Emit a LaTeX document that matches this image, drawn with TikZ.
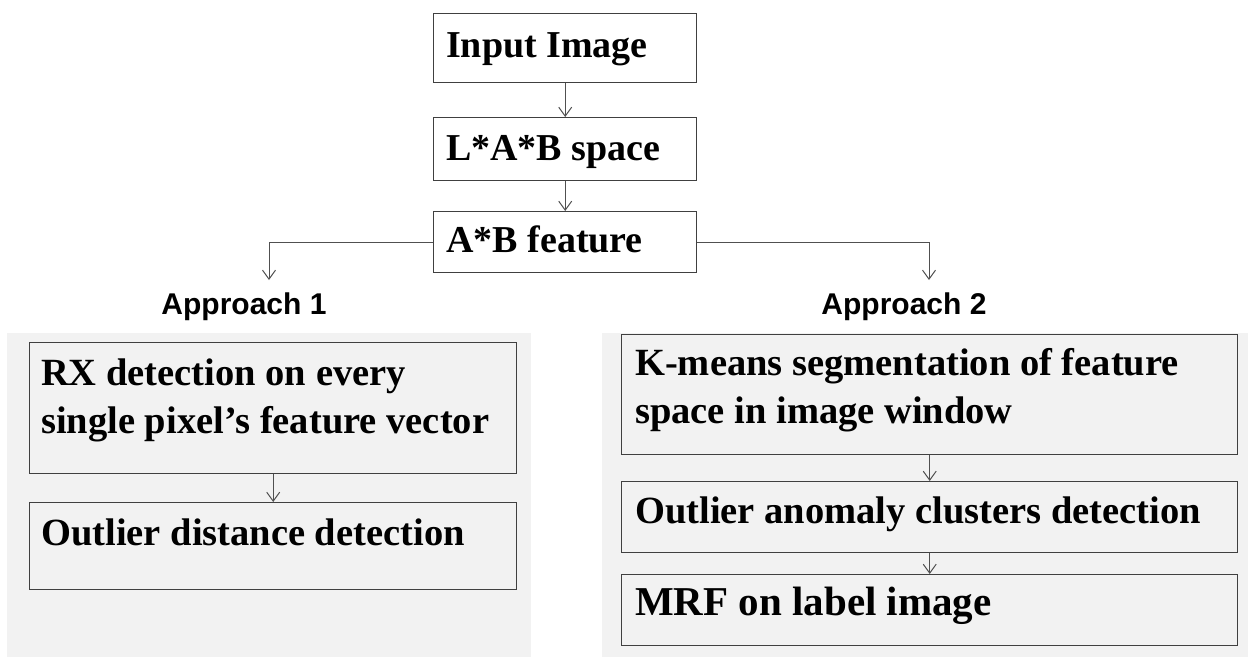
\documentclass[tikz,border=0pt]{standalone}
\usepackage{fontspec}
\setmainfont{Liberation Serif}
\newfontfamily\apfont{Liberation Sans}
\usetikzlibrary{arrows.meta}
\definecolor{panelc}{HTML}{F2F2F2}
\definecolor{boxc}{HTML}{404040}
\definecolor{arrc}{HTML}{505050}
\tikzset{
  box/.style={draw=boxc, line width=1.4pt, rectangle, inner sep=0pt, anchor=north west},
  wbox/.style={box, fill=white},
  txt/.style={inner sep=0pt, anchor=base west, font=\fontsize{38.5}{48}\selectfont\bfseries, align=left},
  aptxt/.style={inner sep=0pt, anchor=base, font=\fontsize{30}{36}\selectfont\apfont\bfseries},
  arr/.style={draw=arrc, line width=1pt, -{Straight Barb[length=9pt,width=13pt,line width=1pt]}},
  panel/.style={fill=panelc, draw=none}
}
\begin{document}
\begin{tikzpicture}[x=1pt,y=-1pt]
\useasboundingbox (0,0) rectangle (1248,657);
% panels
\path[panel] (7,333) rectangle (531,657);
\path[panel] (602,333) rectangle (1248,657);
% top boxes
\node[wbox, minimum width=263pt, minimum height=69pt] (in) at (433,13) {};
\node[wbox, minimum width=263pt, minimum height=63pt] (lab) at (433,117) {};
\node[wbox, minimum width=263pt, minimum height=61pt] (ab) at (433,211) {};
\node[txt, font=\fontsize{38}{48}\selectfont\bfseries] (inT) at (446,57) {Input Image};
\node[txt, font=\fontsize{38}{48}\selectfont\bfseries] (labT) at (446,160) {L*A*B space};
\node[txt, font=\fontsize{38}{48}\selectfont\bfseries] (abT) at (446,252) {A*B feature};
% approach labels
\node[aptxt] (ap1) at (244,314) {Approach 1};
\node[aptxt] (ap2) at (904,314) {Approach 2};
\coordinate (t1) at (269,280);
\coordinate (t2) at (929,280);
% left boxes
\node[box, minimum width=487pt, minimum height=131pt] (rx) at (29,342) {};
\node[box, minimum width=487pt, minimum height=87pt] (od) at (29,502) {};
\node[txt] (rxT) at (41,433) {RX detection on every\\single pixel’s feature vector};
\node[txt] (odT) at (41,545) {Outlier distance detection};
% right boxes
\node[box, minimum width=616pt, minimum height=120pt] (km) at (621,334) {};
\node[box, minimum width=616pt, minimum height=71pt] (oa) at (621,481) {};
\node[box, minimum width=616pt, minimum height=71pt] (mrf) at (621,574) {};
\node[txt] (kmT) at (635,423) {K-means segmentation of feature\\space in image window};
\node[txt] (oaT) at (635,523) {Outlier anomaly clusters detection};
\node[txt, font=\fontsize{41}{48}\selectfont\bfseries] (mrfT) at (635,615) {MRF on label image};
% connectors
\draw[arr] (in.south) -- (lab.north);
\draw[arr] (lab.south) -- (ab.north);
\draw[arr] (ab.west) -| (t1);
\draw[arr] (ab.east) -| (t2);
\draw[arr] (rx.south) -- (od.north);
\draw[arr] (km.south) -- (oa.north);
\draw[arr] (oa.south) -- (mrf.north);
\end{tikzpicture}
\end{document}
